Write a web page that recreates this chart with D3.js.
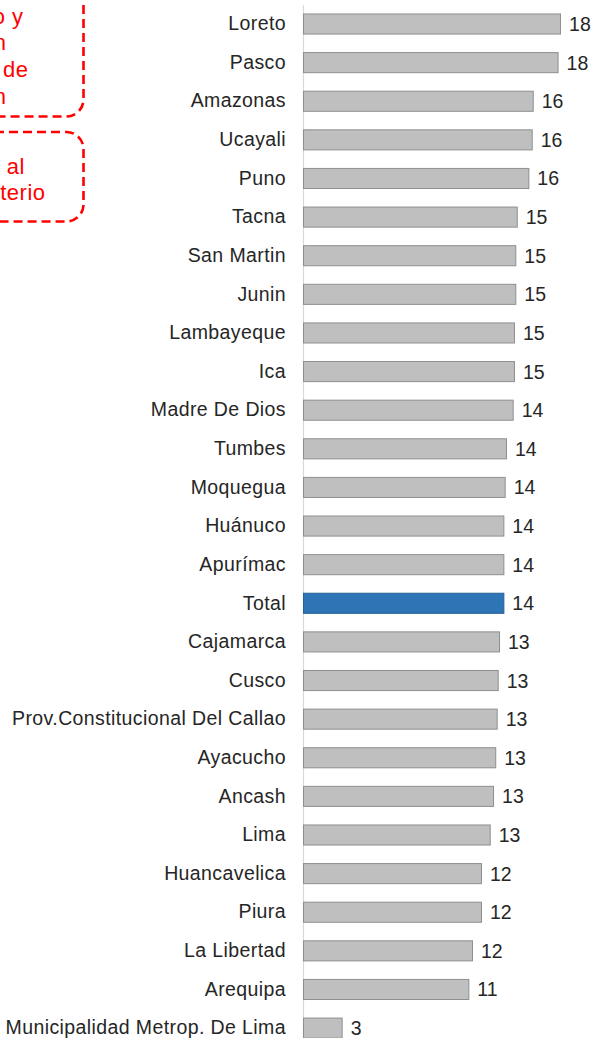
<!DOCTYPE html>
<html>
<head>
<meta charset="utf-8">
<script src="https://cdn.jsdelivr.net/npm/d3@7"></script>
<style>
  body { margin: 0; background: #fff; }
  text { font-family: "Liberation Sans", Arial, sans-serif; }
  .axis text { font-size: 19.5px; fill: #262626; letter-spacing: 0.4px; }
  .axis path { stroke: #d9d9d9; }
  .value { font-size: 19.5px; fill: #262626; }
  .note { font-size: 22px; fill: #ff0000; letter-spacing: 0.5px; }
</style>
</head>
<body>
<svg width="596" height="1038"></svg>
<script>
var categories = ["Loreto", "Pasco", "Amazonas", "Ucayali", "Puno", "Tacna", "San Martin", "Junin",
  "Lambayeque", "Ica", "Madre De Dios", "Tumbes", "Moquegua", "Huánuco", "Apurímac", "Total",
  "Cajamarca", "Cusco", "Prov.Constitucional Del Callao", "Ayacucho", "Ancash", "Lima",
  "Huancavelica", "Piura", "La Libertad", "Arequipa", "Municipalidad Metrop. De Lima"];
var values = [17.69, 17.52, 15.81, 15.74, 15.51, 14.71, 14.61, 14.61,
  14.52, 14.52, 14.43, 13.97, 13.88, 13.79, 13.79, 13.79,
  13.49, 13.40, 13.33, 13.23, 13.08, 12.85,
  12.25, 12.25, 11.63, 11.38, 2.66];
var highlight = "Total";
var noteLines1 = ["o y", "n", "de", "n"];
var noteLines2 = ["s al", "terio"];

var data = categories.map(function(c, i) { return {name: c, value: values[i]}; });

var svg = d3.select("svg");
var margin = {top: 4.7, right: 2.4, bottom: 0, left: 303};
var width = 290.6;
var height = 1042.7;

var x = d3.scaleLinear().domain([0, 20]).range([0, width]);
var y = d3.scaleBand().domain(categories).range([0, height]).paddingInner(0.48).paddingOuter(0.24);

var g = svg.append("g")
  .attr("transform", "translate(" + margin.left + "," + margin.top + ")");

// callout boxes, cut off by the left edge
function note(top, bottom, lines, baselines, endX) {
  svg.append("rect")
    .attr("x", -120).attr("y", top)
    .attr("width", 203.5).attr("height", bottom - top)
    .attr("rx", 17).attr("ry", 17)
    .attr("fill", "none")
    .attr("stroke", "#ff0000")
    .attr("stroke-width", 2.6)
    .attr("stroke-dasharray", "9,5");
  svg.selectAll(null)
    .data(lines)
    .enter().append("text")
    .attr("class", "note")
    .attr("text-anchor", "end")
    .attr("x", function(d, i) { return endX[i]; })
    .attr("y", function(d, i) { return baselines[i]; })
    .text(function(d) { return d; });
}
note(-40, 116.5, noteLines1, [24, 50, 77, 104], [23.5, 6.5, 28.5, 6.5]);
note(132, 221.5, noteLines2, [174, 200], [25, 45.5]);

g.append("g")
  .attr("class", "axis axis--y")
  .call(d3.axisLeft(y).tickSize(0).tickSizeOuter(0).tickPadding(17))
  .call(function(a) { a.select(".domain").attr("stroke", "#d9d9d9").attr("stroke-width", 1.2); });

g.selectAll(".bar")
  .data(data)
  .enter().append("rect")
  .attr("class", "bar")
  .attr("x", x(0) + 0.5)
  .attr("y", function(d) { return y(d.name); })
  .attr("width", function(d) { return x(d.value) - x(0); })
  .attr("height", y.bandwidth())
  .attr("fill", function(d) { return d.name === highlight ? "#2e75b6" : "#bfbfbf"; })
  .attr("stroke", function(d) { return d.name === highlight ? "#25609a" : "#8f8f8f"; })
  .attr("stroke-width", 1);

g.selectAll(".value")
  .data(data)
  .enter().append("text")
  .attr("class", "value")
  .attr("x", function(d) { return x(d.value) + 9; })
  .attr("y", function(d) { return y(d.name) + y.bandwidth() / 2; })
  .attr("dy", "0.36em")
  .text(function(d) { return d3.format(".0f")(d.value); });
</script>
</body>
</html>
